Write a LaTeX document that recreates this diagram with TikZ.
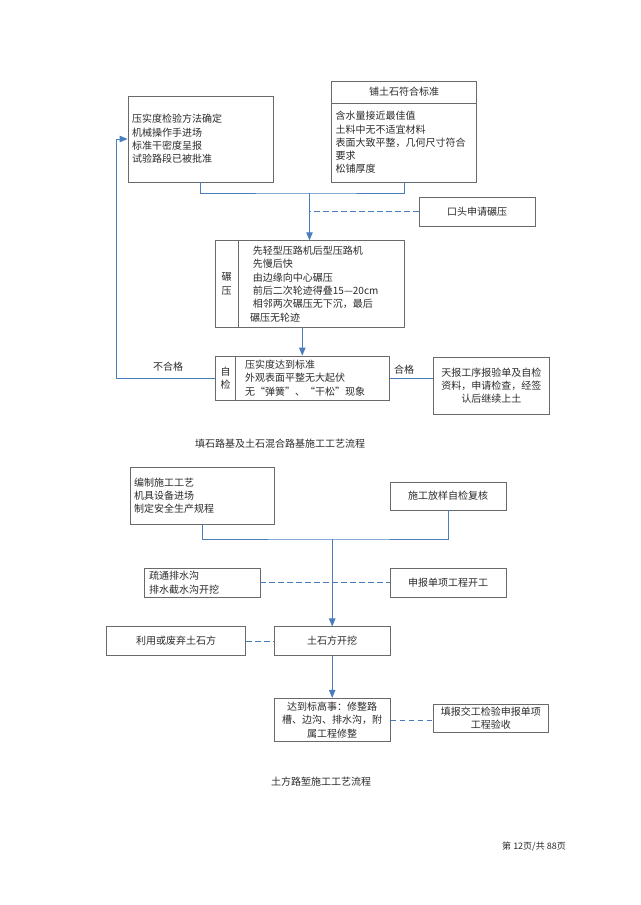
\documentclass[tikz,border=0pt]{standalone}
\usepackage{fontspec}
\newfontfamily\cjk{Noto Sans CJK SC}
\usetikzlibrary{arrows.meta}
\definecolor{flowblue}{HTML}{4A7EBB}
\definecolor{boxgray}{HTML}{6A6A6A}
\definecolor{txt}{HTML}{2A2A2A}
\tikzstyle{every box} = []
\tikzstyle{flow} = [draw=flowblue, line width=0.9pt]
\tikzstyle{note} = [draw=flowblue, line width=0.9pt, dash pattern=on 5.5pt off 3.5pt]
\tikzset{
    box/.style = {rectangle, draw=boxgray, line width=0.8pt, fill=none, text=txt,
                  inner sep=0pt, align=center, font=\cjk\fontsize{10}{13.3}\selectfont, every box},
    plain/.style = {inner sep=0pt, text=txt, font=\cjk\fontsize{10}{13.3}\selectfont},
    >={Triangle[length=8pt,width=6.5pt]}
}

\begin{document}
\begin{tikzpicture}[x=1pt,y=-1pt]
            \useasboundingbox (0,0) rectangle (640,905);
            % fill-rock subgrade
            \node[box, minimum width=145, minimum height=86, text width=137, align=left] (check)  at (200.5,139)
                {压实度检验方法确定\\机械操作手进场\\标准干密度呈报\\试验路段已被批准};
            \node[box, minimum width=145, minimum height=22]                              (spread) at (404.2,92)   {铺土石符合标准};
            \node[box, minimum width=145, minimum height=79, text width=137, align=left] (spreadB) at (404.2,142.5)
                {含水量接近最佳值\\土料中无不适宜材料\\表面大致平整，几何尺寸符合\\要求\\松铺厚度};
            \node[box, minimum width=116, minimum height=29]                              (oral)   at (477,211.5) {口头申请碾压};
            \node[box, minimum width=189, minimum height=86.6]                            (roll)   at (309.5,284) {};
            \node[box, minimum width=23.3, minimum height=86.6]                           (rollL)  at (226.6,284) {碾\\压};
            \node[plain, anchor=west, text width=150, align=left]                        (rollT)  at (250,284)
                {\hspace{2.7pt}先轻型压路机后型压路机\\\hspace{2.7pt}先慢后快\\\hspace{2.7pt}由边缘向中心碾压\\\hspace{2.7pt}前后二次轮迹得叠15—20cm\\\hspace{2.7pt}相邻两次碾压无下沉，最后\\碾压无轮迹};
            \node[box, minimum width=174, minimum height=44]                              (self)   at (302.3,378) {};
            \node[box, minimum width=20.6, minimum height=44]                             (selfL)  at (225.5,378) {自\\检};
            \node[plain, anchor=west, text width=140, align=left]                        (selfT)  at (245,378)
                {压实度达到标准\\外观表面平整无大起伏\\无“弹簧”、“干松”现象};
            \node[box, minimum width=116, minimum height=57, text width=106]             (report) at (491.3,385.5)
                {天报工序报验单及自检\\资料，申请检查，经签\\认后继续上土};
            \node[plain] (fail) at (168,367) {不合格};
            \node[plain] (pass) at (404,370) {合格};
            \node[plain] (title1) at (280,444) {填石路基及土石混合路基施工工艺流程};

            \coordinate (hub1) at (309.5,193);
            \coordinate (back) at (116.7,378);
            \draw[flow] (check.south) |- (hub1) -| (spreadB.south);
            \draw[flow,->] (hub1) -- (roll.north);
            \draw[note] (oral.west) -- (oral.west -| hub1);
            \draw[flow,->] (self.north |- roll.south) -- (self.north);
            \draw[flow,->] (self.west) -- (back) |- (check.west);
            \draw[flow] (self.east) -- (self.east -| report.west);

            % earth cutting
            \node[box, minimum width=144, minimum height=57, text width=136, align=left] (prep)   at (202,495.5)
                {编制施工工艺\\机具设备进场\\制定安全生产规程};
            \node[box, minimum width=116, minimum height=28]                              (stake)  at (448,496)   {施工放样自检复核};
            \node[box, minimum width=116, minimum height=29, text width=106, align=left] (drain)  at (202,582.7)
                {疏通排水沟\\排水截水沟开挖};
            \node[box, minimum width=116, minimum height=29]                              (apply)  at (448,582.7) {申报单项工程开工};
            \node[box, minimum width=139, minimum height=28.3]                            (reuse)  at (176.2,641) {利用或废弃土石方};
            \node[box, minimum width=116, minimum height=28.3]                            (dig)    at (332.2,641) {土石方开挖};
            \node[box, minimum width=116, minimum height=43.4, text width=100]            (finish) at (332.2,720)
                {达到标高事：修整路\\槽、边沟、排水沟，附\\属工程修整};
            \node[box, minimum width=115, minimum height=28.7, text width=105]            (accept) at (490.8,718.4)
                {填报交工检验申报单项\\工程验收};
            \node[plain] (title2) at (321,782) {土方路堑施工工艺流程};
            \node[plain, font=\cjk\fontsize{9}{11}\selectfont] (page) at (534,846) {第 12页/共 88页};

            \coordinate (hub2) at (332.2,539);
            \draw[flow] (prep.south) |- (hub2) -| (stake.south);
            \draw[flow,->] (hub2) -- (dig.north);
            \draw[note] (drain.east) -- (apply.west);
            \draw[note] (reuse.east) -- (dig.west);
            \draw[flow,->] (dig.south) -- (finish.north);
            \draw[note] (finish.east) -- (finish.east -| accept.west);
        \end{tikzpicture}
\end{document}
